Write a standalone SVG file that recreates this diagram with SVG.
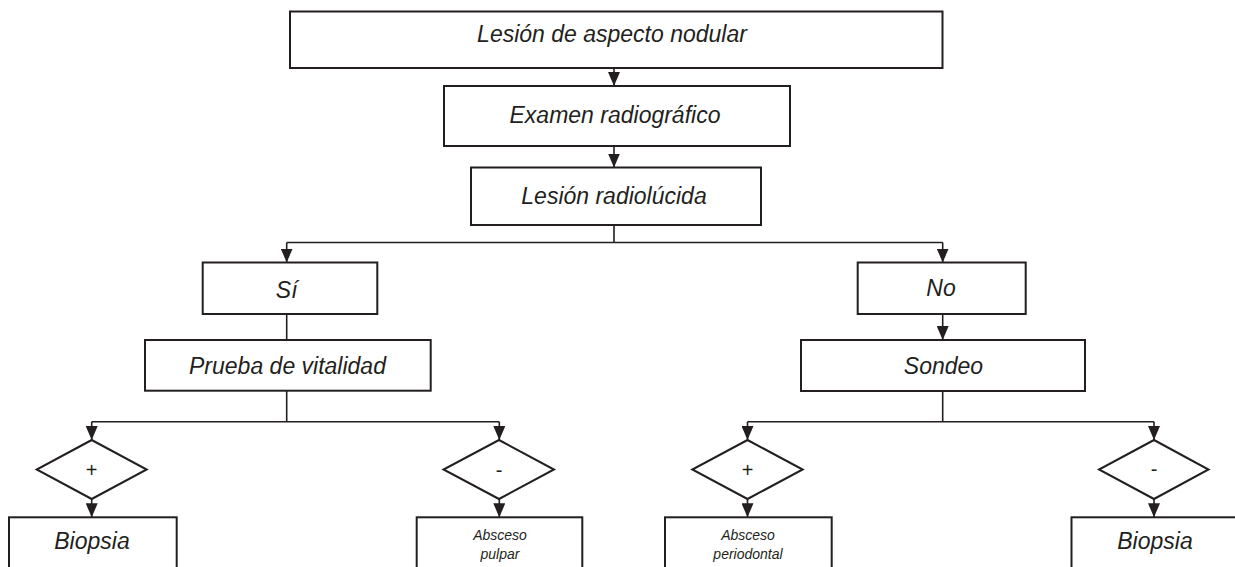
<svg xmlns="http://www.w3.org/2000/svg" width="1235" height="567" viewBox="0 0 1235 567">
<defs>
<style>
.box{fill:#fff;stroke:#231f20;stroke-width:2}
.dia{fill:#fff;stroke:#231f20;stroke-width:2}
.ln{fill:none;stroke:#231f20;stroke-width:1.6}
.arr{marker-end:url(#ah)}
.t{font-family:"Liberation Sans",Arial,sans-serif;font-style:italic;font-size:23px;fill:#231f20;text-anchor:middle}
.s{font-size:14px}
.sym{font-style:normal;font-size:20px}
</style>
<marker id="ah" markerUnits="userSpaceOnUse" markerWidth="14" markerHeight="12" viewBox="0 0 14 12" refX="14" refY="6" orient="auto">
<path d="M0,0 L14,6 L0,12 Z" fill="#231f20"/>
</marker>
</defs>
<rect width="1235" height="567" fill="#fff"/>
<g id="connectors">
<path class="ln arr" d="M614,68 V86"/>
<path class="ln arr" d="M614,146 V167.5"/>
<path class="ln" d="M614,225 V242.5 M286.7,242.5 H942.7"/>
<path class="ln arr" d="M286.7,242.5 V262.5"/>
<path class="ln arr" d="M942.7,242.5 V262.5"/>
<path class="ln" d="M286.7,314 V340"/>
<path class="ln arr" d="M942.7,314 V340"/>
<path class="ln" d="M286.7,390.7 V421.7 M91.7,421.7 H499.3"/>
<path class="ln" d="M942.7,391 V421.7 M747.5,421.7 H1154"/>
<path class="ln arr" d="M91.7,421.7 V440"/>
<path class="ln arr" d="M499.3,421.7 V440"/>
<path class="ln arr" d="M747.5,421.7 V440"/>
<path class="ln arr" d="M1154,421.7 V440"/>
<path class="ln arr" d="M91.7,499 V517.3"/>
<path class="ln arr" d="M499.3,499 V517.3"/>
<path class="ln arr" d="M747.5,499 V517.3"/>
<path class="ln arr" d="M1154,499 V517.3"/>
</g>
<g id="n-lesion-nodular">
<rect class="box" x="290" y="11.5" width="652.5" height="56.5"/>
<text class="t" x="612" y="41.5">Lesión de aspecto nodular</text>
</g>
<g id="n-examen">
<rect class="box" x="444" y="86" width="346" height="60"/>
<text class="t" x="615" y="123">Examen radiográfico</text>
</g>
<g id="n-radiolucida">
<rect class="box" x="471" y="167.5" width="290" height="57.5"/>
<text class="t" x="614" y="204">Lesión radiolúcida</text>
</g>
<g id="n-si">
<rect class="box" x="202.7" y="262.5" width="174.6" height="51.5"/>
<text class="t" x="286.7" y="298">Sí</text>
</g>
<g id="n-no">
<rect class="box" x="857.7" y="262.5" width="168" height="51.5"/>
<text class="t" x="941" y="296">No</text>
</g>
<g id="n-prueba">
<rect class="box" x="145" y="340" width="285.7" height="50.7"/>
<text class="t" x="287.5" y="373.5">Prueba de vitalidad</text>
</g>
<g id="n-sondeo">
<rect class="box" x="801" y="340" width="284" height="51"/>
<text class="t" x="943.5" y="373.5">Sondeo</text>
</g>
<g id="n-plus-left">
<polygon class="dia" points="91.7,440 146.7,469.5 91.7,499 36.7,469.5"/>
<text class="t sym" x="91.7" y="477">+</text>
</g>
<g id="n-minus-left">
<polygon class="dia" points="499,440 554,469.5 499,499 443.5,469.5"/>
<text class="t sym" x="499" y="477">-</text>
</g>
<g id="n-plus-right">
<polygon class="dia" points="747.5,440 802.7,469.5 747.5,499 692.3,469.5"/>
<text class="t sym" x="747.5" y="477">+</text>
</g>
<g id="n-minus-right">
<polygon class="dia" points="1154,440 1208.5,469.5 1154,499 1099,469.5"/>
<text class="t sym" x="1154" y="476">-</text>
</g>
<g id="n-biopsia-left">
<rect class="box" x="9" y="517.3" width="167.7" height="60"/>
<text class="t" x="92" y="548.5">Biopsia</text>
</g>
<g id="n-absceso-pulpar">
<rect class="box" x="416.7" y="517.3" width="165.6" height="60"/>
<text class="t s" x="500" y="540">Absceso</text>
<text class="t s" x="500" y="558.5">pulpar</text>
</g>
<g id="n-absceso-periodontal">
<rect class="box" x="665" y="517.3" width="166.7" height="60"/>
<text class="t s" x="748" y="540">Absceso</text>
<text class="t s" x="748" y="558.5">periodontal</text>
</g>
<g id="n-biopsia-right">
<rect class="box" x="1071.5" y="517.3" width="168" height="60"/>
<text class="t" x="1155" y="548.5">Biopsia</text>
</g>
</svg>
